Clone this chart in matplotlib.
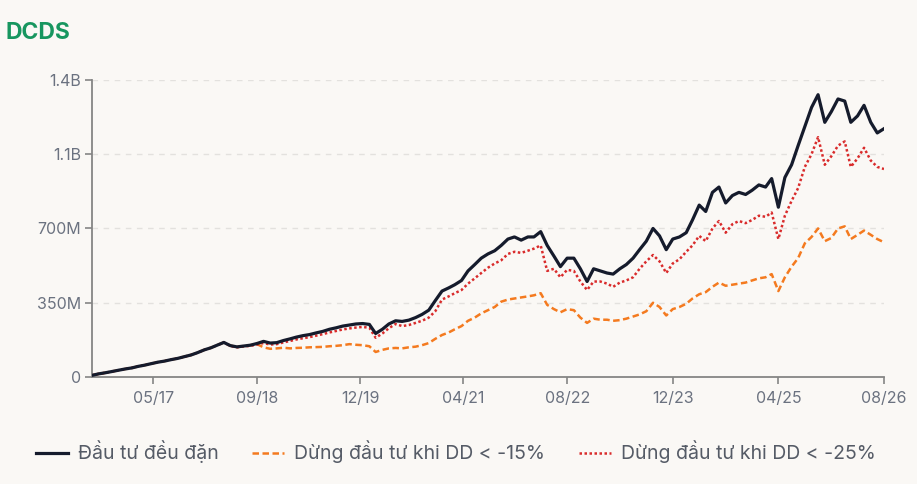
import matplotlib
matplotlib.use("Agg")
import matplotlib.pyplot as plt
import pandas as pd

plt.rcParams['font.family'] = ['Inter', 'DejaVu Sans']

# gia tri hang thang (trieu dong), tu 08/2016 den 08/2026
dates = pd.date_range('2016-08-01', periods=121, freq='MS')

deu_dan = [8, 15, 20, 26, 32, 38, 43, 50, 56, 63,
           70, 75, 82, 88, 96, 104, 115, 128, 138, 150,
           163, 148, 142, 146, 150, 158, 168, 160, 162, 172,
           180, 188, 195, 200, 208, 215, 225, 232, 240, 245,
           250, 252, 248, 205, 225, 250, 265, 262, 268, 280,
           295, 315, 360, 405, 420, 435, 455, 500, 530, 560,
           580, 595, 620, 650, 660, 645, 660, 660, 685, 620,
           570, 520, 560, 560, 510, 450, 510, 500, 490, 485,
           510, 530, 560, 600, 640, 700, 665, 600, 650, 660,
           680, 740, 810, 780, 870, 895, 820, 855, 870, 860,
           880, 905, 895, 935, 800, 940, 1000, 1090, 1180, 1270,
           1330, 1200, 1250, 1310, 1300, 1200, 1230, 1280, 1200, 1150,
           1170]

dd15 = [8, 15, 20, 26, 32, 38, 43, 50, 56, 63,
        70, 75, 82, 88, 96, 104, 115, 128, 138, 150,
        163, 148, 142, 146, 150, 155, 140, 133, 135, 138,
        135, 137, 138, 140, 141, 142, 145, 147, 150, 155,
        152, 150, 145, 118, 128, 135, 137, 135, 140, 143,
        150, 160, 180, 198, 210, 225, 240, 265, 280, 300,
        315, 330, 355, 365, 370, 375, 380, 385, 395, 340,
        320, 305, 320, 315, 280, 255, 275, 270, 270, 265,
        268, 275, 285, 295, 310, 350, 330, 290, 320, 330,
        345, 370, 390, 400, 425, 445, 430, 435, 440, 445,
        455, 465, 470, 485, 405, 470, 520, 560, 630, 660,
        700, 640, 655, 700, 710, 650, 670, 690, 670, 650,
        635]

dd25 = [8, 15, 20, 26, 32, 38, 43, 50, 56, 63,
        70, 75, 82, 88, 96, 104, 115, 128, 138, 150,
        163, 146, 140, 144, 147, 153, 160, 153, 155, 163,
        170, 177, 183, 188, 195, 202, 210, 217, 224, 229,
        233, 236, 232, 185, 205, 230, 250, 240, 245, 255,
        265, 280, 310, 365, 380, 395, 410, 440, 465, 490,
        515, 535, 550, 580, 590, 585, 595, 605, 620, 500,
        510, 470, 505, 500, 450, 410, 450, 450, 440, 425,
        445, 455, 470, 510, 545, 575, 545, 490, 535, 555,
        590, 620, 665, 640, 700, 735, 680, 720, 735, 725,
        740, 760, 755, 775, 650, 760, 830, 890, 990, 1050,
        1130, 1000, 1040, 1090, 1110, 990, 1030, 1080, 1020, 990,
        980]

labels = ['Đầu tư đều đặn', 'Dừng đầu tư khi DD < -15%', 'Dừng đầu tư khi DD < -25%']
tick_dates = pd.to_datetime(['2017-05-10', '2018-09-01', '2019-12-20', '2021-04-10',
                             '2022-08-01', '2023-12-01', '2025-04-01', '2026-08-01'])
y_ticks = [0, 350, 700, 1050, 1400]
y_labels = ['0', '350M', '700M', '1.1B', '1.4B']

bg = '#faf8f5'
grey = '#6b7280'

fig = plt.figure(figsize=(9.17, 4.84), dpi=100, facecolor=bg)
ax = fig.add_axes([0.1003, 0.221, 0.8637, 0.614], facecolor=bg)

s = 1e6
ax.plot(dates, [v * s for v in deu_dan], color='#151b2c', lw=2.3, label=labels[0], zorder=3)
ax.plot(dates, [v * s for v in dd15], color='#f47a1f', lw=1.8, ls=(0, (2.6, 1.4)), label=labels[1], zorder=2)
ax.plot(dates, [v * s for v in dd25], color='#d92b2b', lw=1.8, ls=(0, (1, 1)), label=labels[2], zorder=2)

ax.set_xlim(dates[0], dates[-1])
ax.set_ylim(0, 1400 * s)
ax.set_yticks([v * s for v in y_ticks])
ax.set_yticklabels(y_labels)
ax.set_xticks(tick_dates)
ax.set_xticklabels([d.strftime('%m/%y') for d in tick_dates])

for v in y_ticks[1:]:
    ax.axhline(v * s, color='#e3e1de', lw=1, ls=(0, (4, 4)), zorder=0)

for sp in ['top', 'right']:
    ax.spines[sp].set_visible(False)
for sp in ['left', 'bottom']:
    ax.spines[sp].set_color('#858585')
    ax.spines[sp].set_linewidth(1.3)
ax.tick_params(axis='both', colors='#858585', labelcolor=grey, labelsize=11.5, length=5, width=1.2)
ax.tick_params(axis='y', pad=3)
ax.tick_params(axis='x', pad=5)

fig.text(0.006, 0.932, 'DCDS', color='#17965f', fontsize=16.5, fontweight='bold', va='center', ha='left')

fig.legend(loc='center', bbox_to_anchor=(0.497, 0.066), ncol=3, frameon=False,
           fontsize=14, labelcolor='#555b66', handlelength=1.65, handletextpad=0.5,
           columnspacing=1.75)

fig.savefig('out.png', dpi=100, facecolor=bg)
